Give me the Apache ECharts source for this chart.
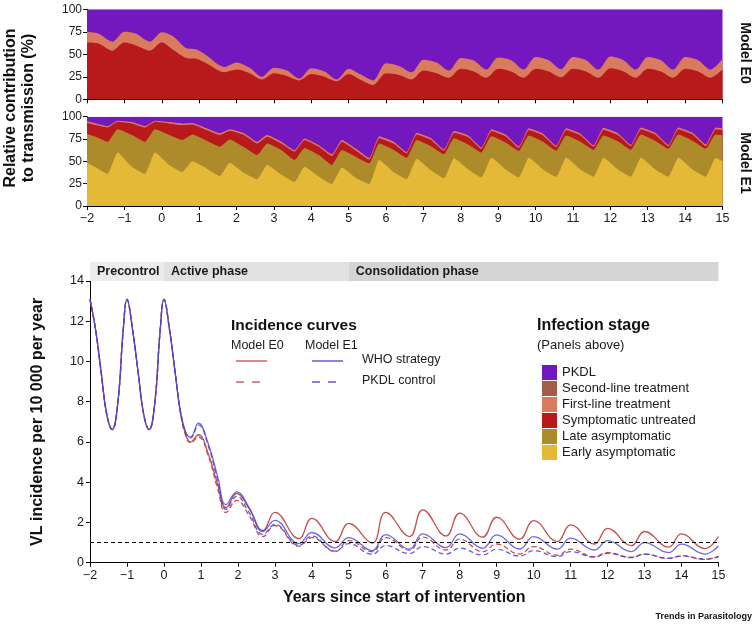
<!DOCTYPE html>
<html>
<head>
<meta charset="utf-8">
<script src="https://cdn.jsdelivr.net/npm/echarts@6/dist/echarts.min.js"></script>
<style>html,body{margin:0;padding:0;background:#fff}#c{width:754px;height:626px}</style>
</head>
<body>
<div id="c"></div>
<script>
// ---------- Data: Model E0 relative contribution (cumulative upper edge of each stage, %) ----------
const e0X = [-2,-1.7,-1.32,-1,-0.7,-0.32,0,0.3,0.65,0.92,1.19,1.68,2.0,2.35,2.68,3.0,3.35,3.68,4.0,4.35,4.68,5.0,5.3,5.65,6.0,6.35,6.68,7.0,7.35,7.68,8.0,8.35,8.68,9.0,9.35,9.68,10.0,10.35,10.68,11.0,11.35,11.68,12.0,12.35,12.68,13.0,13.35,13.68,14.0,14.35,14.68,15.0];
const e0SymptomaticTop = [63,62,54,63,60,54,63,55,46,45,40,30,33,29,22,29,26,21,28,25,20,28,22,16,29,27,22,32,29,24,34,31,24,34,31,24,34,31,24.5,34,31,24,34.5,31,24,34,31,24,34,31,24,33];
const e0FirstLineTop = [75,73,64,75,73,64,74.5,70,57,55.5,49,36,41,35,25,35,32,23,34.5,31,22,34,28,21,40,37,30,44,41,32,46,43,33,46.5,43.5,33,47,43.5,33.5,47,43.5,33,47.5,43.5,33,47,43.5,33,47,43.5,33,45];

// ---------- Data: Model E1 relative contribution (cumulative upper edge of each stage, %) ----------
const e1X = [-2,-1.8,-1.45,-1.18,-0.8,-0.45,-0.18,0.2,0.55,0.82,1.2,1.55,1.82,2.2,2.55,2.82,3.2,3.55,3.82,4.2,4.55,4.82,5.2,5.55,5.82,6.2,6.55,6.82,7.2,7.55,7.82,8.2,8.55,8.82,9.2,9.55,9.82,10.2,10.55,10.82,11.2,11.55,11.82,12.2,12.55,12.82,13.2,13.55,13.82,14.2,14.55,14.82,15];
const e1EarlyTop = [48.5,44,36,60,44,36,60,46,38,50,42,33.5,48.5,37,30,46,35,27,44,33,24.6,43,31,24.6,51.5,38,30,53,40,31,53.5,41,32,54,41,32,54,41,32.5,54,41,33,54,41,33,54,41,33,54,41,33,54,50];
const e1LateTop = [81,78,72,86,79.5,72,86,79.5,74,80,73,66.4,74.6,66,57,70,62.7,51.5,65,57,46,62.7,55,47.8,70,63,54,74,67,58,76,69,60,78,71,61.5,79,72,62,79,72,63,79,72.5,63,80,73,64,80,73,64,80,79];
const e1SymptomaticTop = [93,91,88,94.4,92.5,88,94.4,92.5,90.7,91.4,85,79.5,84.3,79.5,70,77.6,70,60.8,73.9,66.4,56,72,62,52,76,70,59,80,74,62,82,77,64,84,78,65,85,79,66,85,79,66.5,85.5,79.5,67,86,80,67,86,80,67,86,85];
const e1FirstLineTop = [95,93,89.5,95.5,94,89.5,95.5,94,92.5,93,87,81.5,86,81.5,72,79.5,72,62.5,75.5,68,58,74,64,53.7,78,72,60.5,82,76,63.5,84,79,65.5,86,80,66.5,87,81,67.5,87,81,68,87.5,81.5,68.5,88,82,68.5,88,82,69,88,87];

// ---------- Data: VL incidence per 10 000 per year ----------
const incX = [-2,-1.85,-1.7,-1.55,-1.4,-1.25,-1.1,-1,-0.85,-0.7,-0.55,-0.4,-0.25,-0.1,0,0.15,0.3,0.45,0.6,0.72,0.93,1.2,1.45,1.68,1.97,2.3,2.68,3.0,3.65,4.0,4.63,5.0,5.63,6.0,6.64,7.0,7.63,8.0,8.62,9.0,9.62,10.0,10.64,11.0,11.64,12.0,12.64,13.0,13.65,14.0,14.63,15.0];
const e0Who  = [13.09,11.6,9.5,7.4,6.62,7.9,11.6,13.09,11.6,9.5,7.4,6.62,7.9,11.6,13.09,11.6,9.5,7.4,6.3,6.0,6.36,5.4,3.9,2.73,3.44,2.7,1.6,2.5,1.2,2.2,1.05,1.95,0.98,2.5,1.3,2.63,1.33,2.46,1.27,2.26,1.17,2.09,1.05,1.88,0.93,1.71,0.85,1.55,0.77,1.43,0.70,1.30];
const e0Pkdl = [13.09,11.6,9.5,7.4,6.62,7.9,11.6,13.09,11.6,9.5,7.4,6.62,7.9,11.6,13.09,11.6,9.5,7.4,6.25,5.95,6.25,5.3,3.7,2.5,3.1,2.35,1.3,1.85,0.82,1.25,0.55,1.1,0.55,1.25,0.62,1.27,0.63,1.17,0.55,0.93,0.43,0.80,0.37,0.67,0.30,0.50,0.27,0.43,0.22,0.33,0.17,0.30];
const e1Who  = [13.09,11.6,9.5,7.4,6.62,7.9,11.6,13.09,11.6,9.5,7.4,6.62,7.9,11.6,13.09,11.6,9.5,7.5,6.45,6.25,6.94,5.9,4.3,2.89,3.52,2.75,1.55,2.1,0.95,1.5,0.74,1.25,0.6,1.4,0.67,1.43,0.75,1.43,0.72,1.38,0.68,1.30,0.67,1.22,0.63,1.10,0.55,1.0,0.50,0.92,0.43,0.83];
const e1Pkdl = [13.09,11.6,9.5,7.4,6.62,7.9,11.6,13.09,11.6,9.5,7.4,6.62,7.9,11.6,13.09,11.6,9.5,7.5,6.4,6.2,6.85,5.8,4.1,2.65,3.3,2.5,1.4,1.9,0.86,1.32,0.58,0.95,0.42,0.85,0.45,0.80,0.43,0.72,0.38,0.67,0.33,0.60,0.30,0.55,0.28,0.47,0.25,0.42,0.21,0.35,0.17,0.30];
const eliminationThreshold = 1;

// ---------- Phases ----------
const phaseNames = ['Precontrol','Active phase','Consolidation phase'];
const phaseStarts = [-2, 0, 5];
const phaseEnds = [0, 5, 15];

// ---------- Labels ----------
const stageNames = ['PKDL','Second-line treatment','First-line treatment','Symptomatic untreated','Late asymptomatic','Early asymptomatic'];
const contributionMax = 100;

// ---------- Styling ----------
const stageColors = {
  'PKDL':'#7318be',
  'Second-line treatment':'#a35c48',
  'First-line treatment':'#d97b5c',
  'Symptomatic untreated':'#b81a1b',
  'Late asymptomatic':'#ad8b2b',
  'Early asymptomatic':'#e3b937'
};
const phaseColors = ['#ececec','#e1e1e1','#d4d4d4'];
const E0C = '#c44f4d', E1C = '#4a43d4';
const FONT = 'Liberation Sans, Arial, sans-serif';

function fmtYear(v){ return v < 0 ? '\u2212' + (-v) : String(v); }
function pairs(xs, ys){ return xs.map((x,i)=>[x, ys[i]]); }

// Each band is drawn as an area from 0 up to its cumulative upper edge; upper bands are drawn first
function band(name, xs, tops, gi, smooth){
  return { name, type:'line', xAxisIndex:gi, yAxisIndex:gi, data:pairs(xs, tops), symbol:'none', smooth:smooth||false,
    color: stageColors[name], lineStyle:{width:0}, areaStyle:{color:stageColors[name], opacity:1, origin:'start'},
    silent:true, animation:false };
}
const e0Ceil = e0X.map(() => contributionMax);
const e1Ceil = e1X.map(() => contributionMax);

const series = [
  band('PKDL', e0X, e0Ceil, 0),
  band('First-line treatment', e0X, e0FirstLineTop, 0, 0.3),
  band('Symptomatic untreated', e0X, e0SymptomaticTop, 0, 0.3),
  band('PKDL', e1X, e1Ceil, 1),
  band('Second-line treatment', [], [], 1),
  band('First-line treatment', e1X, e1FirstLineTop, 1, 0.15),
  band('Symptomatic untreated', e1X, e1SymptomaticTop, 1, 0.15),
  band('Late asymptomatic', e1X, e1LateTop, 1, 0.15),
  band('Early asymptomatic', e1X, e1EarlyTop, 1, 0.15),
  { name:'phases', type:'line', xAxisIndex:2, yAxisIndex:2, data:[], silent:true,
    markArea:{ silent:true,
      label:{show:true, position:'insideLeft', distance:7, color:'#1a1a1a', fontSize:12.5, fontWeight:'bold', fontFamily:FONT},
      data: phaseNames.map((n,i)=>[{name:n, xAxis:phaseStarts[i], itemStyle:{color:phaseColors[i]}},{xAxis:phaseEnds[i]}]) } },
  { name:'E0 WHO', type:'line', xAxisIndex:3, yAxisIndex:3, data:pairs(incX,e0Who), symbol:'none', smooth:0.45,
    lineStyle:{color:E0C, width:1.3}, z:3,
    markLine:{ silent:true, symbol:'none', label:{show:false},
      lineStyle:{color:'#000', type:[4,3], width:1.1}, data:[{yAxis:eliminationThreshold}] } },
  { name:'E0 PKDL', type:'line', xAxisIndex:3, yAxisIndex:3, data:pairs(incX,e0Pkdl), symbol:'none', smooth:0.45,
    lineStyle:{color:E0C, width:1.3, type:[5,3]}, z:3 },
  { name:'E1 PKDL', type:'line', xAxisIndex:3, yAxisIndex:3, data:pairs(incX,e1Pkdl), symbol:'none', smooth:0.45,
    lineStyle:{color:E1C, width:1.3, type:[5,3], opacity:0.85}, z:4 },
  { name:'E1 WHO', type:'line', xAxisIndex:3, yAxisIndex:3, data:pairs(incX,e1Who), symbol:'none', smooth:0.45,
    lineStyle:{color:E1C, width:1.3, opacity:0.8}, z:4 }
];

const axisLineStyle = {show:true, onZero:false, lineStyle:{color:'#000', width:1}};
const tickStyle = {show:true, length:4, lineStyle:{color:'#000', width:1}};
const lbl = (size) => ({color:'#1a1a1a', fontSize:size, fontFamily:FONT});

function xAx(gi, showLabels, extra){
  return Object.assign({ gridIndex:gi, type:'value', min:-2, max:15, interval:1,
    axisLine:axisLineStyle, axisTick:tickStyle, splitLine:{show:false},
    axisLabel:Object.assign({show:showLabels, margin:6, formatter:fmtYear}, lbl(12.5)) }, extra||{});
}
function yAx(gi, max, interval, extra){
  return Object.assign({ gridIndex:gi, type:'value', min:0, max, interval,
    axisLine:axisLineStyle, axisTick:tickStyle, splitLine:{show:false},
    axisLabel:Object.assign({margin:5}, lbl(12)) }, extra||{});
}

const option = {
  animation:false,
  backgroundColor:'#fff',
  grid:[
    {left:87, top:9.3, width:635.5, height:90},
    {left:87, top:116.7, width:635.5, height:89.3},
    {left:90, top:262, width:628.5, height:19},
    {left:90, top:281, width:628.5, height:281.7}
  ],
  xAxis:[
    xAx(0,false),
    xAx(1,true),
    {gridIndex:2, type:'value', min:-2, max:15, show:false},
    xAx(3,true,{name:'Years since start of intervention', nameLocation:'middle', nameGap:27,
      nameTextStyle:{fontSize:16, fontWeight:'bold', color:'#111', fontFamily:FONT}})
  ],
  yAxis:[
    yAx(0, 100, 25),
    yAx(1, 100, 25),
    {gridIndex:2, type:'value', min:0, max:1, show:false},
    yAx(3, 14, 2, {axisLabel:Object.assign({margin:6}, lbl(12.5)),
      name:'VL incidence per 10 000 per year', nameLocation:'middle', nameGap:44, nameRotate:90,
      nameTextStyle:{fontSize:16, fontWeight:'bold', color:'#111', fontFamily:FONT}})
  ],
  legend:{
    orient:'vertical', left:537, top:360, itemWidth:15, itemHeight:15, itemGap:1, icon:'rect',
    selectedMode:false, data:stageNames,
    textStyle:{fontSize:13, color:'#1a1a1a', fontFamily:FONT}
  },
  graphic:[
    {type:'text', x:20, y:108, rotation:Math.PI/2, style:{text:'Relative contribution\nto transmission (%)', fill:'#111',
      font:'bold 16px '+FONT, textAlign:'center', textVerticalAlign:'middle', lineHeight:18}},
    {type:'text', x:745, y:53, rotation:-Math.PI/2, style:{text:'Model E0', fill:'#111', font:'bold 14px '+FONT, textAlign:'center', textVerticalAlign:'middle'}},
    {type:'text', x:745, y:163, rotation:-Math.PI/2, style:{text:'Model E1', fill:'#111', font:'bold 14px '+FONT, textAlign:'center', textVerticalAlign:'middle'}},
    {type:'text', left:231, top:318, style:{text:'Incidence curves', fill:'#111', font:'bold 15.5px '+FONT}},
    {type:'text', left:231, top:339, style:{text:'Model E0', fill:'#1a1a1a', font:'12.5px '+FONT}},
    {type:'text', left:305, top:339, style:{text:'Model E1', fill:'#1a1a1a', font:'12.5px '+FONT}},
    {type:'line', shape:{x1:236, y1:361, x2:267, y2:361}, style:{stroke:E0C, lineWidth:1.3}},
    {type:'line', shape:{x1:312, y1:361, x2:343, y2:361}, style:{stroke:E1C, lineWidth:1.3}},
    {type:'line', shape:{x1:236, y1:382, x2:267, y2:382}, style:{stroke:E0C, lineWidth:1.3, lineDash:[8,8]}},
    {type:'line', shape:{x1:312, y1:382, x2:343, y2:382}, style:{stroke:E1C, lineWidth:1.3, lineDash:[8,8]}},
    {type:'text', left:362, top:353, style:{text:'WHO strategy', fill:'#1a1a1a', font:'12.5px '+FONT}},
    {type:'text', left:362, top:374, style:{text:'PKDL control', fill:'#1a1a1a', font:'12.5px '+FONT}},
    {type:'text', left:537, top:318, style:{text:'Infection stage', fill:'#111', font:'bold 16px '+FONT}},
    {type:'text', left:537, top:339, style:{text:'(Panels above)', fill:'#1a1a1a', font:'13px '+FONT}},
    {type:'text', right:2, top:612, style:{text:'Trends in Parasitology', fill:'#111', font:'bold 9px Liberation Sans Narrow, '+FONT}}
  ],
  series
};

const chart = echarts.init(document.getElementById('c'), null, {renderer:'canvas'});
chart.setOption(option);
</script>
</body>
</html>
